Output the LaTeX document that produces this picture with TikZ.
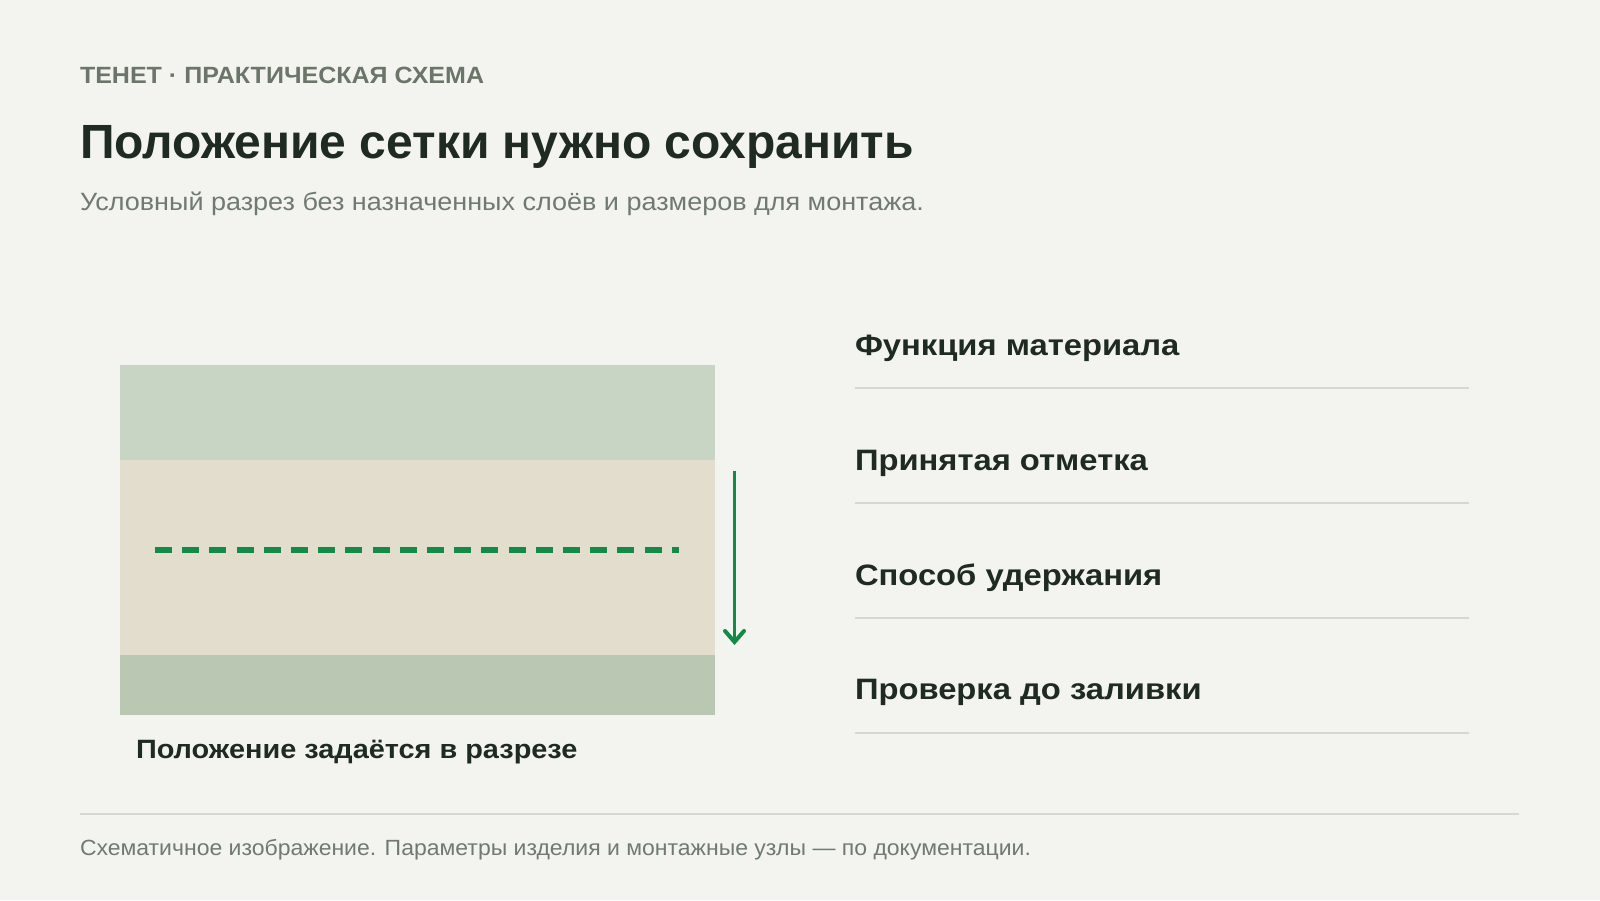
\documentclass[tikz,border=0pt]{standalone}
\usepackage{fontspec}
\setmainfont{Liberation Sans}
\usetikzlibrary{arrows.meta}
\definecolor{bg}{HTML}{F3F4EF}
\definecolor{kicker}{HTML}{6B7569}
\definecolor{ink}{HTML}{1F2A22}
\definecolor{sub}{HTML}{707A72}
\definecolor{rule}{HTML}{D4D8CF}
\definecolor{layerA}{HTML}{C9D5C4}
\definecolor{layerB}{HTML}{E3DDCD}
\definecolor{layerC}{HTML}{BAC7B3}
\definecolor{mesh}{HTML}{138A47}
\tikzset{
  txt/.style={anchor=base west, inner sep=0pt, outer sep=0pt},
  item/.style={txt, font=\fontsize{29.5}{34}\selectfont\bfseries\addfontfeature{FakeStretch=1.11}, text=ink},
  sep/.style={draw=rule, line width=2pt},
}
\begin{document}
\begin{tikzpicture}[x=1pt,y=-1pt]
\useasboundingbox[fill=bg] (0,0) rectangle (1600,900);
% header
\node[txt, font=\fontsize{23.5}{28}\selectfont\bfseries\addfontfeature{FakeStretch=1.065}, text=kicker] (kick) at (80,83) {ТЕНЕТ · ПРАКТИЧЕСКАЯ СХЕМА};
\node[txt, font=\fontsize{48}{56}\selectfont\bfseries, text=ink] (title) at (80,158) {Положение сетки нужно сохранить};
\node[txt, font=\fontsize{25}{28}\selectfont\addfontfeature{FakeStretch=1.08}, text=sub] (subt) at (80,210) {Условный разрез без назначенных слоёв и размеров для монтажа.};
% section
\fill[layerA] (120,365) rectangle (715,460);
\fill[layerB] (120,460) rectangle (715,655);
\fill[layerC] (120,655) rectangle (715,715);
\draw[mesh, line width=6.5pt, dash pattern=on 17pt off 10.2pt] (155,550) -- (679,550);
\coordinate (arrA) at (734.5,471);
\coordinate (arrB) at (734.5,645);
\draw[mesh, line width=3.5pt, -{Straight Barb[length=11pt,width=19pt,line width=4pt,line cap=round]}] (arrA) -- (arrB);
\node[txt, font=\fontsize{26.5}{30}\selectfont\bfseries\addfontfeature{FakeStretch=1.09}, text=ink] (cap) at (136,758) {Положение задаётся в разрезе};
% list
\node[item] (i1) at (855,355) {Функция материала};
\node[item] (i2) at (855,470) {Принятая отметка};
\node[item] (i3) at (855,585) {Способ удержания};
\node[item] (i4) at (855,699.5) {Проверка до заливки};
\draw[sep] (855,388) -- (1469,388);
\draw[sep] (855,503) -- (1469,503);
\draw[sep] (855,618) -- (1469,618);
\draw[sep] (855,733) -- (1469,733);
% footer
\draw[sep] (80,814) -- (1519,814);
\node[txt, font=\fontsize{22}{26}\selectfont\addfontfeature{FakeStretch=1.045}, text=sub] (foot) at (80,855) {Схематичное изображение. Параметры изделия и монтажные узлы — по документации.};
\end{tikzpicture}
\end{document}
